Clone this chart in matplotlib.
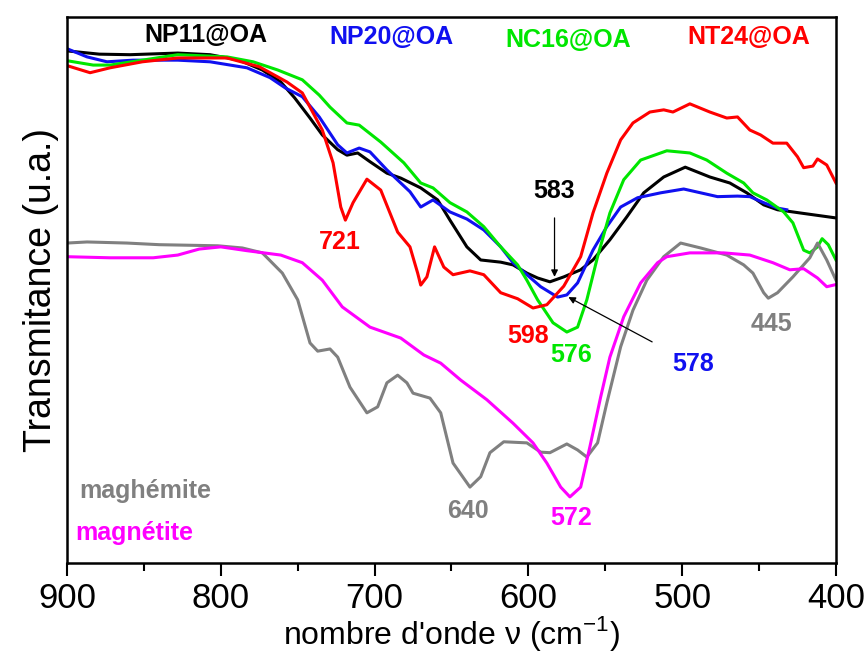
import matplotlib
matplotlib.use("Agg")
import matplotlib.pyplot as plt
from matplotlib.ticker import MultipleLocator

plt.rcParams['font.family'] = ['Liberation Sans', 'DejaVu Sans']
plt.rcParams['mathtext.fontset'] = 'custom'
plt.rcParams['mathtext.rm'] = 'Liberation Sans'

# spectra: wavenumber (cm-1), transmittance (a.u.)
np11_wn = [900, 879, 859, 828, 807, 788, 773, 761, 752, 742, 734, 724, 718, 711, 703, 692, 683, 670, 659,
           651, 640, 631, 618, 610, 601, 594, 586, 577, 566, 558, 547, 536, 525, 512, 498, 482, 469, 458,
           447, 438, 423, 400]
np11_t = [93.8, 93.2, 93.1, 93.4, 93.1, 92.1, 90.3, 88.1, 85.2, 81.5, 78.4, 75.7, 74.7, 75.1, 73.5, 71.4,
          70.5, 68.7, 66.5, 62.8, 57.9, 55.5, 55.1, 54.6, 53.1, 52.2, 51.5, 52.4, 53.7, 55.5, 59.2, 63.4,
          67.8, 70.7, 72.5, 70.7, 69.6, 67.8, 65.6, 64.7, 64.1, 63.2]

np20_wn = [900, 887, 874, 857, 828, 807, 783, 768, 758, 747, 736, 724, 718, 710, 703, 692, 677, 670, 662,
           651, 640, 629, 618, 610, 601, 592, 581, 575, 568, 558, 549, 540, 529, 514, 499, 488, 477, 464,
           456, 447, 438, 432]
np20_t = [94.2, 92.7, 91.8, 92.1, 92.1, 91.8, 90.7, 88.9, 87.0, 85.4, 81.7, 76.6, 75.1, 76.0, 75.3, 72.0,
          68.0, 65.2, 66.5, 64.3, 63.0, 61.0, 57.9, 55.0, 52.8, 50.6, 48.7, 49.1, 51.3, 57.3, 61.6, 65.2,
          66.9, 67.8, 68.5, 67.8, 67.1, 67.2, 67.1, 66.0, 65.0, 64.7]

nc16_wn = [900, 883, 872, 851, 828, 796, 779, 763, 747, 736, 729, 718, 710, 696, 681, 670, 662, 651, 640,
           629, 618, 607, 601, 594, 584, 575, 568, 562, 555, 547, 538, 527, 510, 495, 484, 471, 460, 454,
           445, 434, 428, 421, 417, 412, 409, 405, 400]
nc16_t = [92.0, 91.2, 91.2, 92.1, 93.1, 92.7, 91.8, 90.3, 88.5, 85.7, 83.5, 80.6, 80.2, 77.1, 73.3, 69.6,
          68.7, 66.0, 64.3, 61.6, 57.9, 54.6, 51.8, 48.2, 44.0, 42.3, 43.2, 48.2, 56.1, 64.1, 70.2, 73.8,
          75.5, 75.1, 73.8, 71.4, 69.6, 67.8, 66.5, 64.3, 62.3, 57.3, 56.8, 57.9, 59.4, 58.3, 55.5]

nt24_wn = [900, 885, 872, 851, 828, 796, 775, 757, 747, 734, 727, 722, 719, 714, 705, 696, 685, 677, 672,
           670, 666, 661, 655, 649, 638, 629, 618, 607, 597, 588, 577, 566, 558, 549, 540, 532, 521, 512,
           506, 495, 482, 471, 464, 456, 449, 441, 432, 425, 421, 415, 412, 406, 400]
nt24_t = [91.1, 89.8, 90.7, 91.8, 92.5, 92.5, 90.9, 88.1, 86.1, 79.3, 73.3, 65.2, 62.8, 66.0, 70.3, 68.3,
          60.6, 57.9, 53.1, 50.9, 52.4, 57.9, 54.2, 52.8, 53.5, 52.8, 49.5, 48.4, 46.7, 47.3, 50.7, 56.1,
          64.1, 71.4, 77.5, 80.6, 82.6, 83.0, 82.6, 84.1, 82.6, 81.5, 81.7, 79.3, 78.4, 76.9, 76.9, 74.4,
          72.4, 72.7, 74.0, 72.9, 69.6]

maghemite_wn = [900, 887, 861, 840, 802, 786, 773, 760, 750, 742, 737, 729, 724, 716, 705, 698, 692, 685,
                679, 675, 664, 657, 649, 638, 631, 625, 616, 601, 592, 586, 575, 568, 562, 555, 549, 540,
                532, 523, 512, 501, 488, 471, 460, 454, 447, 444, 438, 428, 417, 412, 406, 400]
maghemite_t = [58.6, 58.8, 58.6, 58.3, 58.1, 57.7, 56.8, 53.1, 48.2, 40.3, 38.8, 39.2, 37.7, 32.2, 27.5,
               28.6, 33.0, 34.4, 33.0, 31.1, 30.2, 27.5, 18.3, 13.9, 15.8, 20.2, 22.2, 22.0, 20.3, 20.2,
               21.8, 20.7, 19.4, 22.0, 29.3, 39.6, 46.3, 51.8, 56.1, 58.6, 57.7, 56.4, 54.6, 53.1, 49.5,
               48.5, 49.5, 52.4, 55.9, 58.6, 55.5, 51.8]

magnetite_wn = [900, 872, 844, 828, 814, 800, 783, 761, 747, 734, 721, 703, 683, 668, 657, 644, 627, 610,
                597, 588, 579, 573, 566, 560, 553, 547, 538, 527, 516, 510, 495, 473, 456, 441, 430, 421,
                412, 406, 400]
magnetite_t = [56.1, 55.9, 55.9, 56.4, 57.5, 57.9, 57.2, 56.4, 55.0, 51.8, 46.9, 43.2, 41.2, 38.1, 36.6,
               33.5, 29.9, 25.6, 22.0, 18.3, 13.9, 12.1, 13.9, 21.3, 30.4, 37.7, 45.1, 51.3, 55.0, 56.1,
               56.8, 56.8, 56.4, 55.0, 53.7, 53.9, 52.2, 50.6, 51.0]

series = [
    (np11_wn, np11_t, 'black'),
    (np20_wn, np20_t, '#1010f0'),
    (nc16_wn, nc16_t, '#00e600'),
    (nt24_wn, nt24_t, '#ff0000'),
    (maghemite_wn, maghemite_t, '#808080'),
    (magnetite_wn, magnetite_t, '#ff00ff'),
]

fig = plt.figure(figsize=(8.67, 6.55), dpi=100)
ax = fig.add_axes([0.0773, 0.1405, 0.8869, 0.8335])

for wn, t, c in series:
    ax.plot(wn, t, color=c, lw=2.2)

ax.set_xlim(900, 400)
ax.set_ylim(0, 100)
ax.set_yticks([])
ax.xaxis.set_major_locator(MultipleLocator(100))
ax.xaxis.set_minor_locator(MultipleLocator(50))
ax.tick_params(axis='x', which='major', direction='out', length=9, width=1.5, pad=5, labelsize=25)
ax.tick_params(axis='x', which='minor', direction='out', length=6, width=1.5)
for s in ax.spines.values():
    s.set_linewidth(1.8)

ax.set_xlabel("nombre d'onde \u03bd (cm$^{-1}$)", fontsize=23, labelpad=-1)
ax.set_ylabel("Transmitance (u.a.)", fontsize=27, labelpad=6)

# sample names
bold = dict(fontsize=18, fontweight='bold', ha='center', va='center')
ax.text(810, 96.7, 'NP11@OA', color='black', **bold)
ax.text(689, 96.4, 'NP20@OA', color='#1010f0', **bold)
ax.text(574, 95.8, 'NC16@OA', color='#00e600', **bold)
ax.text(457, 96.4, 'NT24@OA', color='#ff0000', **bold)
ax.text(849, 13.2, 'maghémite', color='#808080', **bold)
ax.text(856, 5.5, 'magnétite', color='#ff00ff', **bold)

# band positions
ax.text(722.5, 58.8, '721', color='#ff0000', **bold)
ax.text(600, 41.6, '598', color='#ff0000', **bold)
ax.text(572, 38.1, '576', color='#00e600', **bold)
ax.text(442, 43.8, '445', color='#808080', **bold)
ax.text(639, 9.5, '640', color='#808080', **bold)
ax.text(572, 8.2, '572', color='#ff00ff', **bold)
ax.annotate('583', xy=(583, 52.4), xytext=(583, 68.2), color='black', **bold,
            arrowprops=dict(arrowstyle='-|>', color='black', lw=0.9, mutation_scale=10, shrinkA=9, shrinkB=0))
ax.annotate('578', xy=(574, 48.7), xytext=(493, 36.5), color='#1010f0', **bold,
            arrowprops=dict(arrowstyle='-|>', color='black', lw=0.9, mutation_scale=10, shrinkA=14, shrinkB=0))

fig.savefig('out.png', dpi=100)
